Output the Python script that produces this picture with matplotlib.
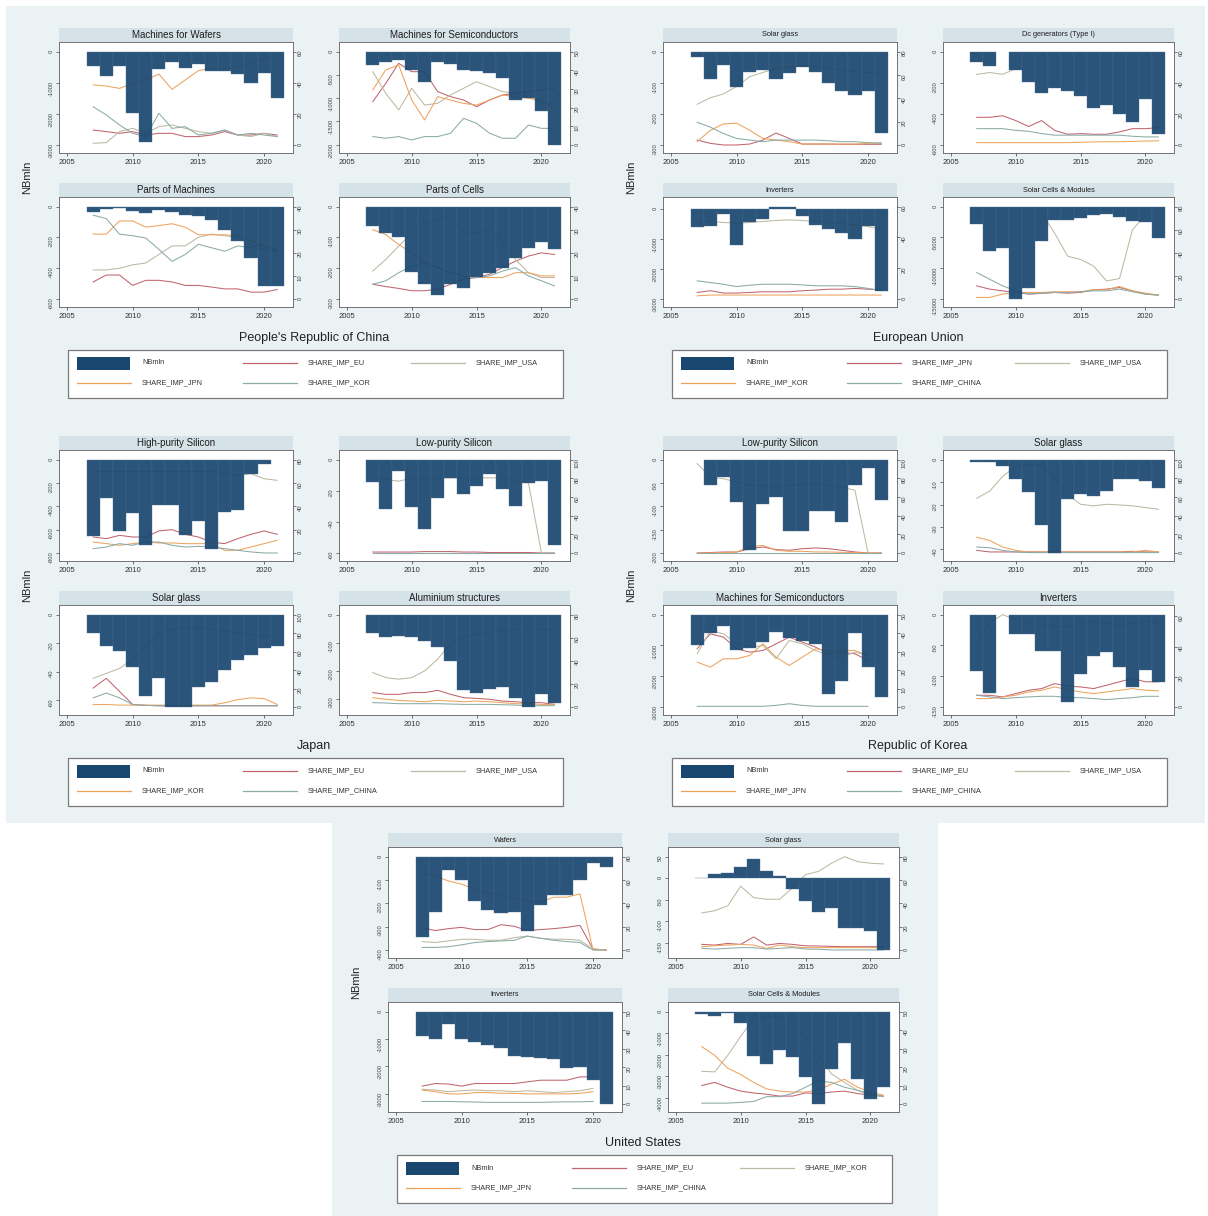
import numpy as np
import matplotlib
matplotlib.use("Agg")
import matplotlib.pyplot as plt
from matplotlib.patches import Rectangle
from matplotlib.lines import Line2D

plt.rcParams["font.family"] = ["Liberation Sans", "DejaVu Sans"]

nan = np.nan
years = np.arange(2007, 2022)

# ---------------- People's Republic of China (EU, USA, JPN, KOR) ----------------
chn_series = ["SHARE_IMP_EU", "SHARE_IMP_USA", "SHARE_IMP_JPN", "SHARE_IMP_KOR"]

chn_wafers_nb = [-450, -780, -450, -1960, -2890, -570, -330, -525, -405, -610, -610, -720, -1020, -695, -1480]
chn_wafers_eu = [9.6, 8.6, 7.5, 8.6, 6.4, 7.5, 7.5, 5.4, 5.4, 6.4, 8.6, 6.4, 6.4, 7.5, 6.4]
chn_wafers_usa = [1.1, 1.5, 8.6, 10.7, 7.5, 11.8, 12.9, 10.7, 8.6, 7.5, 9.6, 6.4, 5.4, 7.5, 5.4]
chn_wafers_jpn = [38.6, 37.9, 36.4, 39.6, 41.8, 45.6, 35.8, 41.8, 47.8, 49.3, 49.3, 50.4, 52.5, 55.1, 57.9]
chn_wafers_kor = [24.6, 19.3, 12.9, 7.5, 5.4, 20.4, 10.7, 11.8, 6.4, 7.5, 9.6, 6.4, 7.5, 6.4, 5.4]

chn_semis_nb = [-290, -220, -180, -400, -655, -220, -255, -385, -415, -460, -560, -1040, -1000, -1270, -2010]
chn_semis_eu = [23.2, 33.0, 43.8, 39.3, 39.3, 28.6, 25.9, 24.1, 20.5, 24.1, 26.8, 27.7, 28.6, 29.5, 30.4]
chn_semis_usa = [39.3, 27.7, 18.8, 30.4, 21.4, 22.3, 26.8, 30.4, 33.9, 31.3, 28.6, 27.7, 25.9, 22.3, 22.3]
chn_semis_jpn = [29.5, 40.2, 42.9, 24.1, 13.4, 25.9, 24.1, 22.3, 21.4, 24.1, 26.8, 25.9, 25.0, 24.1, 18.8]
chn_semis_kor = [4.5, 3.6, 4.5, 2.7, 4.5, 4.5, 6.3, 14.3, 11.6, 6.3, 3.6, 3.6, 10.7, 8.9, 8.9]

chn_pmach_nb = [-32, -17, -11, -26, -43, -21, -32, -54, -64, -86, -150, -225, -332, -514, -514]
chn_pmach_eu = [7.4, 10.4, 10.4, 5.9, 8.1, 8.1, 7.4, 5.9, 5.9, 5.2, 4.4, 4.4, 3.0, 3.0, 4.1]
chn_pmach_usa = [12.6, 12.6, 13.3, 14.8, 15.6, 19.3, 23.0, 23.0, 26.7, 28.1, 27.4, 26.7, 23.0, 23.0, 21.5]
chn_pmach_jpn = [28.1, 28.1, 33.8, 33.8, 31.1, 31.8, 32.6, 31.1, 27.8, 27.8, 27.8, 27.4, 25.2, 23.0, 20.7]
chn_pmach_kor = [36.3, 34.8, 28.1, 27.4, 26.4, 21.5, 16.3, 19.3, 23.7, 22.2, 20.7, 23.0, 22.2, 21.5, 20.7]

chn_pcell_nb = [-62, -86, -99, -212, -252, -287, -252, -263, -230, -214, -198, -166, -134, -116, -139]
chn_pcell_eu = [6.4, 5.4, 4.6, 3.6, 3.6, 4.3, 6.4, 8.6, 9.3, 10.7, 13.6, 16.4, 18.6, 20.0, 19.3]
chn_pcell_usa = [12.1, 17.1, 22.9, 28.6, 32.9, 34.3, 36.4, 28.6, 28.6, 30.0, 25.7, 17.1, 11.4, 9.3, 9.3]
chn_pcell_jpn = [30.0, 27.9, 23.6, 20.0, 15.7, 13.6, 11.4, 10.0, 9.3, 9.3, 9.3, 11.4, 11.4, 10.0, 10.0]
chn_pcell_kor = [6.4, 7.9, 11.4, 14.3, 15.7, 13.6, 11.4, 10.0, 9.3, 10.0, 12.1, 13.6, 10.0, 7.9, 5.7]

# ---------------- European Union (JPN, USA, KOR, CHINA) ----------------
eu_series = ["SHARE_IMP_JPN", "SHARE_IMP_USA", "SHARE_IMP_KOR", "SHARE_IMP_CHINA"]

eu_glass_nb = [-18, -88, -44, -112, -65, -60, -88, -70, -49, -65, -101, -128, -140, -125, -263]
eu_glass_jpn = [4.2, 1.4, 0, 0, 0.8, 4.2, 10.3, 5.6, 0.8, 0.8, 0.8, 0.6, 0.6, 0.6, 0.6]
eu_glass_usa = [34.9, 40.5, 43.8, 50.2, 58.6, 62.2, 65.6, 67.0, 68.4, 67.0, 65.6, 64.2, 62.8, 62.2, 61.4]
eu_glass_kor = [2.8, 12.6, 18.1, 18.7, 12.6, 5.6, 4.2, 2.8, 0.8, 0.8, 0.8, 0.8, 0.8, 1.4, 2.0]
eu_glass_chn = [19.5, 15.3, 9.8, 5.6, 4.2, 2.8, 4.2, 4.2, 4.2, 4.2, 3.6, 2.8, 2.8, 2.0, 1.4]

eu_dcgen_nb = [-67, -92, nan, -119, -193, -266, -234, -251, -286, -359, -343, -401, -454, -303, -527]
eu_dcgen_jpn = [17.8, 17.8, 18.8, 15.7, 11.9, 15.7, 9.4, 6.9, 7.3, 6.9, 6.9, 8.4, 10.5, 10.5, 11.1]
eu_dcgen_usa = [45.4, 46.6, 45.4, 49.1, nan, nan, nan, nan, nan, nan, nan, nan, nan, nan, nan]
eu_dcgen_kor = [1.5, 1.5, 1.5, 1.5, 1.5, 1.5, 1.5, 1.5, 1.7, 2.0, 2.1, 2.1, 2.3, 2.5, 2.7]
eu_dcgen_chn = [10.5, 10.5, 10.5, 9.4, 8.8, 7.3, 6.3, 6.3, 6.3, 6.3, 6.3, 6.3, 5.6, 5.2, 5.2]

eu_inv_nb = [-589, -557, -161, -1200, -429, -321, 86, 86, -214, -514, -675, -804, -986, -557, -2732]
eu_inv_jpn = [4.3, 5.4, 3.9, 3.9, 4.3, 4.7, 4.7, 4.7, 5.4, 5.8, 6.4, 6.4, 6.9, 6.4, 6.0]
eu_inv_usa = [49.7, 50.4, 49.7, 49.3, 49.7, 50.4, 51.0, 51.4, 51.0, 50.4, 49.7, 48.9, 48.2, 47.1, 45.0]
eu_inv_kor = [2.1, 2.6, 2.6, 2.6, 2.6, 2.6, 2.6, 2.6, 2.6, 2.6, 2.6, 2.6, 2.6, 2.6, 2.6]
eu_inv_chn = [11.8, 10.7, 9.6, 8.1, 9.0, 9.6, 9.6, 9.6, 9.2, 8.6, 8.6, 8.6, 8.1, 6.9, 5.4]

eu_cells_nb = [-2790, -7230, -6700, -15000, -13130, -5630, -2140, -2250, -1880, -1340, -1180, -1610, -2410, -2570, -5090]
eu_cells_jpn = [11.4, 8.6, 7.1, 5.7, 4.3, 4.9, 5.7, 5.1, 5.7, 8.0, 8.6, 10.0, 7.1, 4.3, 3.4]
eu_cells_usa = [nan, nan, nan, nan, nan, 74.3, 57.1, 37.1, 34.3, 28.6, 15.7, 17.7, 60.0, 72.9, nan]
eu_cells_kor = [1.4, 1.4, 4.3, 5.7, 5.7, 5.7, 6.3, 6.3, 6.3, 8.0, 8.0, 10.9, 7.1, 5.1, 3.4]
eu_cells_chn = [22.9, 17.1, 11.4, 7.1, 4.3, 5.1, 5.7, 5.7, 6.3, 7.1, 7.1, 8.6, 6.3, 4.3, 3.4]

# ---------------- Japan (EU, USA, KOR, CHINA) ----------------
jp_series = ["SHARE_IMP_EU", "SHARE_IMP_USA", "SHARE_IMP_KOR", "SHARE_IMP_CHINA"]

jp_hps_nb = [-657, -326, -611, -457, -734, -391, -391, -649, -526, -763, -449, -434, -120, -40, nan]
jp_hps_eu = [13.7, 12.3, 15.1, 13.7, 13.7, 18.9, 20.0, 16.0, 13.7, 9.4, 8.0, 12.3, 16.0, 18.9, 16.0]
jp_hps_usa = [70.0, 70.0, 70.0, 70.0, 70.0, 70.0, 70.0, 70.0, 70.0, 70.0, 68.0, 66.6, 68.0, 63.7, 62.3]
jp_hps_kor = [9.4, 8.0, 6.6, 8.0, 9.4, 8.6, 8.6, 8.0, 8.0, 8.0, 2.3, 2.3, 5.1, 8.0, 10.9]
jp_hps_chn = [3.7, 5.1, 8.0, 6.6, 9.4, 9.4, 6.6, 5.1, 5.7, 5.1, 3.7, 2.3, 0.9, 0, 0]

jp_lps_nb = [-14.2, -31.8, -7.0, -30.7, -44.5, -24.8, -11.7, -21.8, -17.0, -9.1, -19.1, -29.7, -14.8, -13.4, -55.1]
jp_lps_eu = [1, 1, 1, 1, 1.5, 1.5, 1.5, 1, 1, 0.5, 0.5, 0.5, 0.5, 0, 0]
jp_lps_usa = [80.0, 78.8, 77.0, 80.0, 80.5, 80.5, 80.5, 80.5, 80.5, 80.5, 80.5, 78.0, 75.2, 0, 0]
jp_lps_kor = [0.3, 0.3, 0.3, 0.3, 0.3, 0.3, 0.3, 0.3, 0.3, 0.3, 0.3, 0.3, 0.3, 0.3, 0.3]
jp_lps_chn = [0.2, 0.2, 0.2, 0.2, 0.2, 0.2, 0.2, 0.2, 0.2, 0.2, 0.2, 0.2, 0.2, 0.2, 0.2]

jp_glass_nb = [-12.6, -22.1, -25.6, -37.0, -56.9, -44.6, -64.8, -64.8, -50.5, -46.9, -38.6, -31.6, -28.0, -23.2, -22.1]
jp_glass_eu = [20.5, 31.1, 16.9, 2.8, 1.8, 1.4, 1.4, 1.4, 1.4, 1.4, 1.4, 1.4, 1.4, 1.4, 1.4]
jp_glass_usa = [31.1, 36.4, 41.7, 52.2, 66.4, 78.7, 84.0, 85.8, 85.8, 84.0, 82.2, 80.5, 78.7, 77.0, 75.2]
jp_glass_kor = [2.8, 2.8, 2.1, 2.1, 2.1, 2.1, 2.1, 2.1, 2.1, 2.1, 4.6, 8.1, 9.9, 9.2, 2.8]
jp_glass_chn = [9.9, 15.2, 9.9, 2.8, 1.8, 1.4, 1.4, 1.4, 1.4, 1.4, 1.4, 1.4, 1.4, 1.4, 1.4]

jp_alu_nb = [-66, -81, -75, -81, -93, -116, -164, -270, -280, -265, -259, -297, -330, -282, -316]
jp_alu_eu = [12.5, 11.0, 11.0, 12.5, 12.5, 14.5, 11.0, 8.1, 7.5, 6.7, 5.2, 4.6, 3.8, 3.8, 2.3]
jp_alu_usa = [29.9, 25.5, 24.1, 25.5, 31.3, 41.5, 54.5, 60.3, 63.2, 64.7, 66.1, 67.6, 67.6, 67.6, 66.1]
jp_alu_kor = [8.1, 6.7, 5.8, 5.2, 4.6, 5.8, 5.2, 4.6, 5.2, 4.6, 3.8, 2.9, 2.9, 2.3, 2.3]
jp_alu_chn = [3.8, 3.5, 2.9, 2.9, 2.9, 2.9, 2.6, 2.3, 2.3, 2.3, 2.0, 1.7, 1.2, 1.2, 1.2]

# ---------------- Republic of Korea (EU, USA, JPN, CHINA) ----------------
kr_series = ["SHARE_IMP_EU", "SHARE_IMP_USA", "SHARE_IMP_JPN", "SHARE_IMP_CHINA"]

kr_lps_nb = [nan, -55, -37, -91, -193, -96, -79, -153, -153, -110, -110, -134, -55, -17, -86]
kr_lps_eu = [0, 0.5, 1, 1, 4.6, 6.4, 3.6, 2.9, 4.6, 5.4, 4.6, 2.9, 1.1, 0, 0]
kr_lps_usa = [95.7, 81.4, 79.6, 76.0, 72.5, 72.5, 70.7, 72.5, 73.5, 74.3, 72.5, 70.7, 67.1, 0, 0]
kr_lps_jpn = [0, 0, 0.5, 1.1, 6.4, 8.2, 2.9, 1.8, 1.8, 1.1, 1.1, 0.7, 0.4, 0, 0]
kr_lps_chn = [0.3, 0.3, 0.3, 0.3, 0.3, 0.3, 0.3, 0.3, 0.3, 0.3, 0.3, 0.3, 0.3, 0.3, 0.3]

kr_glass_nb = [-1.0, -1.0, -2.9, -8.8, -14.4, -29.0, -41.6, -17.6, -15.4, -16.2, -14.0, -8.8, -8.8, -9.3, -12.5]
kr_glass_eu = [2.8, 1.1, 1.1, 1.1, 1.1, 1.1, 1.1, 1.1, 1.1, 1.1, 1.1, 1.1, 1.8, 1.1, 1.1]
kr_glass_usa = [58.6, 66.4, 82.2, 92.8, 94.6, 94.6, 80.5, 62.8, 52.2, 50.5, 52.2, 51.5, 50.5, 48.7, 46.9]
kr_glass_jpn = [16.9, 13.4, 6.4, 2.8, 1.1, 1.1, 1.1, 1.1, 1.1, 1.1, 1.1, 1.1, 1.1, 2.8, 1.1]
kr_glass_chn = [6.4, 5.6, 2.8, 1.1, 0.4, 0.4, 0.4, 0.4, 0.4, 0.4, 0.4, 0.4, 0.4, 0.4, 0.4]

kr_semis_nb = [-971, -604, -356, -1144, -1079, -896, -572, -755, -842, -950, -2568, -2158, -604, -1705, -2676]
kr_semis_eu = [31.5, 39.6, 37.8, 31.5, 29.7, 30.6, 34.2, 37.8, 35.1, 32.4, 28.8, 29.7, 28.8, 25.2, nan]
kr_semis_usa = [28.8, 41.4, 39.6, 34.2, 32.4, 33.3, 26.1, 36.0, 34.2, 30.6, 27.9, 27.0, 29.7, 27.9, nan]
kr_semis_jpn = [24.3, 21.6, 26.1, 26.1, 27.9, 34.2, 27.0, 22.5, 27.0, 31.5, 30.6, 30.6, 30.6, 27.9, nan]
kr_semis_chn = [0.4, 0.4, 0.4, 0.4, 0.4, 0.4, 0.9, 1.8, 0.9, 0.4, 0.4, 0.4, 0.4, 0.4, nan]

kr_inv_nb = [-91.7, -127.3, nan, -31.3, -31.3, -58.3, -58.3, -141.9, -96.0, -66.4, -61.0, -84.2, -117.6, -89.6, -109.5]
kr_inv_eu = [7.8, 7.8, 6.7, 8.9, 11.1, 12.2, 15.5, 13.8, 13.3, 12.2, 14.4, 16.7, 18.9, 16.7, 16.7]
kr_inv_usa = [42.2, 55.5, 61.1, 57.7, 55.5, 54.4, 53.3, 53.3, 55.5, 56.6, 55.5, 54.4, 55.5, 56.6, 55.5]
kr_inv_jpn = [5.6, 5.6, 6.7, 7.8, 10.0, 11.1, 13.3, 11.5, 10.0, 8.9, 10.0, 11.1, 12.2, 11.1, 10.7]
kr_inv_chn = [7.8, 6.7, 5.6, 6.2, 6.7, 7.1, 7.1, 6.2, 6.2, 5.6, 4.9, 5.6, 6.2, 7.1, 7.1]

# ---------------- United States (EU, KOR, JPN, CHINA) ----------------
us_series = ["SHARE_IMP_EU", "SHARE_IMP_KOR", "SHARE_IMP_JPN", "SHARE_IMP_CHINA"]

us_wafers_nb = [-344, -236, -56, -100, -188, -229, -243, -236, -319, -206, -164, -164, -100, -28, -44]
us_wafers_eu = [18.9, 16.7, 18.3, 19.4, 17.5, 17.5, 21.7, 20.3, 16.7, 17.5, 18.3, 19.4, 21.1, 0.8, 0]
us_wafers_kor = [7.2, 6.4, 7.8, 9.2, 9.2, 8.3, 8.3, 10.6, 11.9, 10.0, 9.2, 9.2, 8.3, 0.8, 0]
us_wafers_jpn = [66.1, 63.3, 59.2, 56.4, 52.2, 49.4, 46.1, 44.4, 41.7, 41.1, 45.3, 45.3, 48.1, 0, 0]
us_wafers_chn = [2.2, 2.2, 2.8, 4.4, 6.4, 7.2, 7.8, 8.3, 11.9, 10.0, 8.3, 7.2, 6.4, 0, 0]

us_glass_nb = [1, 9.6, 12.6, 25.9, 44.4, 17.0, 5.2, -25.9, -51.9, -79.3, -68.9, -116.3, -114.8, -122.2, -166.7]
us_glass_eu = [4.8, 4.2, 5.6, 4.8, 11.2, 4.2, 5.6, 4.8, 3.6, 3.4, 3.1, 2.8, 2.8, 2.8, 2.8]
us_glass_kor = [31.7, 33.7, 37.9, 54.7, 44.9, 43.5, 43.5, 53.3, 64.6, 67.4, 74.4, 80.0, 75.8, 74.4, 73.8]
us_glass_jpn = [2.8, 3.6, 4.2, 4.8, 4.2, 1.4, 4.2, 2.8, 2.0, 2.0, 2.0, 2.0, 2.0, 2.0, 2.0]
us_glass_chn = [1.4, 0.8, 1.4, 2.0, 2.0, 0.8, 1.4, 2.0, 0.8, 0.6, 0, 0, 0, 0, 0]

us_inv_nb = [-875, -992, -467, -992, -1109, -1226, -1319, -1634, -1669, -1716, -1751, -2066, -2043, -2486, -3385]
us_inv_eu = [9.7, 11.1, 10.8, 9.7, 11.1, 11.1, 11.1, 11.1, 12.0, 12.9, 12.9, 12.9, 14.7, 14.7, nan]
us_inv_kor = [8.0, 7.6, 6.7, 7.2, 7.6, 7.2, 7.2, 6.7, 7.2, 6.7, 6.2, 6.7, 7.2, 8.5, nan]
us_inv_jpn = [7.6, 6.7, 5.5, 5.5, 6.2, 6.2, 5.8, 5.8, 5.5, 5.5, 5.5, 5.5, 5.8, 6.7, nan]
us_inv_chn = [1.4, 1.4, 1.4, 1.2, 1.1, 0.9, 0.9, 0.9, 0.9, 0.9, 1.1, 1.2, 1.2, 1.4, nan]

us_cells_nb = [-104, -193, -44, -519, -2074, -2415, -1778, -2119, -3037, -4296, -2667, -1481, -3111, -4074, -3481]
us_cells_eu = [10.0, 11.7, 9.1, 7.0, 6.0, 5.3, 4.3, 4.3, 6.0, 5.7, 6.5, 7.0, 5.7, 4.8, 4.3]
us_cells_kor = [17.7, 17.4, 26.3, 36.6, 46.0, 47.8, 46.9, 43.5, 36.6, 26.3, 16.3, 11.7, 7.4, 4.8, 4.0]
us_cells_jpn = [31.1, 26.3, 19.4, 16.0, 11.7, 8.2, 7.0, 6.5, 6.5, 7.7, 10.8, 13.4, 9.1, 6.5, 4.8]
us_cells_chn = [0.5, 0.5, 0.5, 0.9, 1.4, 4.0, 4.0, 5.7, 9.1, 12.5, 11.7, 9.1, 7.4, 5.7, 4.0]

# ---------------- layout / style ----------------
NAVY = "#1a476f"
LINE_COLORS = ["#c0646f", "#bdb9a2", "#eda35e", "#8aaba7"]
BG = "#eaf2f3"
STRIP = "#d5e2e8"

W, H = 1208, 1216
fig = plt.figure(figsize=(W / 100, H / 100), dpi=100)
fig.patch.set_facecolor("white")


def fx(x):
    return x / W


def fy(y):
    return 1 - y / H


def box(x0, y0, x1, y1, **kw):
    r = Rectangle((fx(x0), fy(y1)), (x1 - x0) / W, (y1 - y0) / H,
                  transform=fig.transFigure, **kw)
    fig.add_artist(r)
    return r


def limits(ticks, data):
    vals = np.asarray(data, dtype=float)
    vals = vals[~np.isnan(vals)]
    lo = min(min(ticks), vals.min())
    hi = max(max(ticks), vals.max())
    span = hi - lo
    return lo - 0.086 * span, hi + 0.104 * span


def fmt(t):
    return str(int(t)) if float(t).is_integer() else str(t)


# panel-internal geometry (pixels, relative to panel origin)
COL_X = [(59, 293), (339, 570)]
ROW_Y = [(42, 153), (197, 307)]


def draw_sub(x0, y0, x1, y1, title, tsize, lt, rt, nb, shares):
    box(x0, y0 - 14, x1, y0, facecolor=STRIP, edgecolor="none", zorder=1)
    fig.text(fx((x0 + x1) / 2), fy(y0 - 7), title, ha="center", va="center",
             fontsize=tsize, color="#1e1e1e")
    ax = fig.add_axes([fx(x0), fy(y1), (x1 - x0) / W, (y1 - y0) / H])
    nb = np.asarray(nb, dtype=float)
    ok = ~np.isnan(nb)
    ax.bar(years[ok], nb[ok], width=1.0, color=NAVY, edgecolor="#4c6e8e",
           linewidth=0.3, alpha=0.93, zorder=2)
    ax.set_xlim(2004.4, 2022.2)
    ax.set_ylim(*limits(lt, nb[ok]))
    ax.set_yticks(lt)
    ax.set_yticklabels([fmt(t) for t in lt])
    ax.set_xticks([2005, 2010, 2015, 2020])

    ax2 = ax.twinx()
    for s, c in zip(shares, LINE_COLORS):
        ax2.plot(years, s, color=c, lw=0.75)
    ax2.set_ylim(*limits(rt, np.concatenate([np.asarray(s, float) for s in shares])))
    ax2.set_yticks(rt)
    ax2.set_yticklabels([fmt(t) for t in rt])

    # bars sit above the share lines
    ax.set_zorder(ax2.get_zorder() + 1)
    ax.patch.set_visible(False)
    ax2.patch.set_visible(True)
    ax2.patch.set_facecolor("white")

    for a in (ax, ax2):
        a.tick_params(axis="y", labelsize=4.2, length=2.5, width=0.5, pad=1,
                      labelrotation=90, colors="#444")
        for sp in a.spines.values():
            sp.set_color("#6a6a6a")
            sp.set_linewidth(0.5)
    ax.tick_params(axis="x", labelsize=5.5, length=2.5, width=0.5, pad=1.5, colors="#333")


def draw_panel(dx, dy, country, names, subs, tsize):
    for i, (title, lt, rt, nb, shares) in enumerate(subs):
        r, c = divmod(i, 2)
        draw_sub(COL_X[c][0] + dx, ROW_Y[r][0] + dy, COL_X[c][1] + dx, ROW_Y[r][1] + dy,
                 title, tsize, lt, rt, nb, shares)
    fig.text(fx(27 + dx), fy(177 + dy), "NBmln", rotation=90, ha="center", va="center",
             fontsize=8, color="#222")
    fig.text(fx(314 + dx), fy(338 + dy), country, ha="center", va="center",
             fontsize=9, color="#222")
    # legend
    box(68 + dx, 350 + dy, 563 + dx, 398 + dy, facecolor="white", edgecolor="#7a7a7a",
        linewidth=0.9, zorder=1)
    entries = [("NBmln", None)] + list(zip(names, LINE_COLORS))
    slots = [(77, 363), (243, 363), (411, 363), (77, 383), (243, 383)]
    for (label, color), (kx, ky) in zip(entries, slots):
        if color is None:
            box(kx + dx, ky - 6.5 + dy, kx + 53 + dx, ky + 6.5 + dy, facecolor=NAVY,
                edgecolor="none", zorder=2)
        else:
            fig.add_artist(Line2D([fx(kx + dx), fx(kx + 54 + dx)], [fy(ky + dy)] * 2,
                                  transform=fig.transFigure, color=color, lw=0.9))
        fig.text(fx(kx + 65 + dx), fy(ky + dy), label, fontsize=5.3, ha="left",
                 va="center", color="#333")


# backgrounds
box(6, 6, 1205, 823, facecolor=BG, edgecolor="none", zorder=-10)
box(332, 823, 938, 1216, facecolor=BG, edgecolor="none", zorder=-10)

chn_subs = [
    ("Machines for Wafers", [0, -1000, -2000, -3000], [0, 20, 40, 60], chn_wafers_nb,
     [chn_wafers_eu, chn_wafers_usa, chn_wafers_jpn, chn_wafers_kor]),
    ("Machines for Semiconductors", [0, -500, -1000, -1500, -2000], [0, 10, 20, 30, 40, 50], chn_semis_nb,
     [chn_semis_eu, chn_semis_usa, chn_semis_jpn, chn_semis_kor]),
    ("Parts of Machines", [0, -200, -400, -600], [0, 10, 20, 30, 40], chn_pmach_nb,
     [chn_pmach_eu, chn_pmach_usa, chn_pmach_jpn, chn_pmach_kor]),
    ("Parts of Cells", [0, -100, -200, -300], [0, 10, 20, 30, 40], chn_pcell_nb,
     [chn_pcell_eu, chn_pcell_usa, chn_pcell_jpn, chn_pcell_kor]),
]
eu_subs = [
    ("Solar glass", [0, -100, -200, -300], [0, 20, 40, 60, 80], eu_glass_nb,
     [eu_glass_jpn, eu_glass_usa, eu_glass_kor, eu_glass_chn]),
    ("Dc generators (Type I)", [0, -200, -400, -600], [0, 20, 40, 60], eu_dcgen_nb,
     [eu_dcgen_jpn, eu_dcgen_usa, eu_dcgen_kor, eu_dcgen_chn]),
    ("Inverters", [0, -1000, -2000, -3000], [0, 20, 40, 60], eu_inv_nb,
     [eu_inv_jpn, eu_inv_usa, eu_inv_kor, eu_inv_chn]),
    ("Solar Cells & Modules", [0, -5000, -10000, -15000], [0, 20, 40, 60, 80], eu_cells_nb,
     [eu_cells_jpn, eu_cells_usa, eu_cells_kor, eu_cells_chn]),
]
jp_subs = [
    ("High-purity Silicon", [0, -200, -400, -600, -800], [0, 20, 40, 60, 80], jp_hps_nb,
     [jp_hps_eu, jp_hps_usa, jp_hps_kor, jp_hps_chn]),
    ("Low-purity Silicon", [0, -20, -40, -60], [0, 20, 40, 60, 80, 100], jp_lps_nb,
     [jp_lps_eu, jp_lps_usa, jp_lps_kor, jp_lps_chn]),
    ("Solar glass", [0, -20, -40, -60], [0, 20, 40, 60, 80, 100], jp_glass_nb,
     [jp_glass_eu, jp_glass_usa, jp_glass_kor, jp_glass_chn]),
    ("Aluminium structures", [0, -100, -200, -300], [0, 20, 40, 60, 80], jp_alu_nb,
     [jp_alu_eu, jp_alu_usa, jp_alu_kor, jp_alu_chn]),
]
kr_subs = [
    ("Low-purity Silicon", [0, -50, -100, -150, -200], [0, 20, 40, 60, 80, 100], kr_lps_nb,
     [kr_lps_eu, kr_lps_usa, kr_lps_jpn, kr_lps_chn]),
    ("Solar glass", [0, -10, -20, -30, -40], [0, 20, 40, 60, 80, 100], kr_glass_nb,
     [kr_glass_eu, kr_glass_usa, kr_glass_jpn, kr_glass_chn]),
    ("Machines for Semiconductors", [0, -1000, -2000, -3000], [0, 10, 20, 30, 40, 50], kr_semis_nb,
     [kr_semis_eu, kr_semis_usa, kr_semis_jpn, kr_semis_chn]),
    ("Inverters", [0, -50, -100, -150], [0, 20, 40, 60], kr_inv_nb,
     [kr_inv_eu, kr_inv_usa, kr_inv_jpn, kr_inv_chn]),
]
us_subs = [
    ("Wafers", [0, -100, -200, -300, -400], [0, 20, 40, 60, 80], us_wafers_nb,
     [us_wafers_eu, us_wafers_kor, us_wafers_jpn, us_wafers_chn]),
    ("Solar glass", [50, 0, -50, -100, -150], [0, 20, 40, 60, 80], us_glass_nb,
     [us_glass_eu, us_glass_kor, us_glass_jpn, us_glass_chn]),
    ("Inverters", [0, -1000, -2000, -3000], [0, 10, 20, 30, 40, 50], us_inv_nb,
     [us_inv_eu, us_inv_kor, us_inv_jpn, us_inv_chn]),
    ("Solar Cells & Modules", [0, -1000, -2000, -3000, -4000], [0, 10, 20, 30, 40, 50], us_cells_nb,
     [us_cells_eu, us_cells_kor, us_cells_jpn, us_cells_chn]),
]

draw_panel(0, 0, "People's Republic of China", chn_series, chn_subs, 7)
draw_panel(604, 0, "European Union", eu_series, eu_subs, 5.3)
draw_panel(0, 408, "Japan", jp_series, jp_subs, 7)
draw_panel(604, 408, "Republic of Korea", kr_series, kr_subs, 7)
draw_panel(329, 805, "United States", us_series, us_subs, 5.3)

fig.savefig("out.png", dpi=100)
